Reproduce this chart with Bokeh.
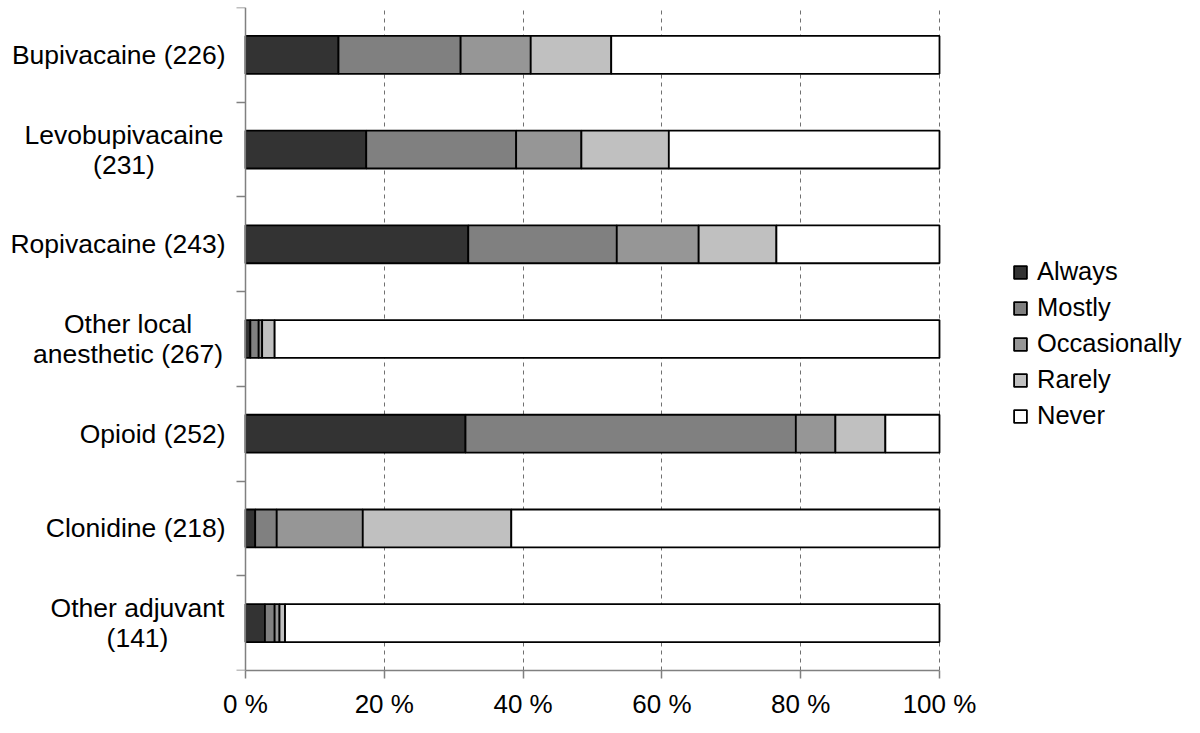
from bokeh.plotting import figure
from bokeh.models import ColumnDataSource, FixedTicker, Range1d, Legend
from bokeh.core.properties import value
from bokeh.embed import file_html
from bokeh.resources import INLINE

categories = ["Bupivacaine (226)", "Levobupivacaine\n(231)", "Ropivacaine (243)",
              "Other local\nanesthetic (267)", "Opioid (252)", "Clonidine (218)",
              "Other adjuvant\n(141)"]
always = [13.4, 17.4, 32.1, 0.7, 31.7, 1.4, 2.8]
mostly = [17.6, 21.6, 21.4, 1.2, 47.6, 3.1, 1.4]
occasionally = [10.1, 9.4, 11.8, 0.5, 5.7, 12.4, 0.7]
rarely = [11.6, 12.6, 11.2, 1.8, 7.2, 21.4, 0.8]
never = [47.3, 39.0, 23.5, 95.8, 7.8, 61.7, 94.3]
series = ["Always", "Mostly", "Occasionally", "Rarely", "Never"]
colors = ["#333333", "#808080", "#969696", "#c0c0c0", "#ffffff"]
x_ticks = [0, 20, 40, 60, 80, 100]
x_tick_labels = ["0 %", "20 %", "40 %", "60 %", "80 %", "100 %"]

FONT = "Liberation Sans"
n = len(categories)
ypos = [n - 0.5 - i for i in range(n)]

# layout in pixels
W = 1184
FRAME_LEFT = 0
ZERO_PX = 245
PX_PER_PCT = 6.94
FRAME_TOP = 7
FRAME_H = 663
fw = W - FRAME_LEFT
x_start = (FRAME_LEFT - ZERO_PX) / PX_PER_PCT
x_end = (W - ZERO_PX) / PX_PER_PCT
px_per_cat = FRAME_H / n

src = ColumnDataSource(dict(y=ypos, Always=always, Mostly=mostly,
                            Occasionally=occasionally, Rarely=rarely, Never=never))

p = figure(frame_width=fw, frame_height=FRAME_H, min_border_left=FRAME_LEFT, min_border_right=0,
           min_border_top=FRAME_TOP, min_border_bottom=10,
           x_range=Range1d(x_start, x_end), y_range=Range1d(0, n),
           output_backend="svg", toolbar_location=None)
p.outline_line_color = None
p.background_fill_color = "white"
p.border_fill_color = "white"

renderers = p.hbar_stack(series, y="y", height=0.4, color=colors, source=src,
                         line_color="black", line_width=1.8)

legend = Legend(items=[(s, [r]) for s, r in zip(series, renderers)],
                location=(1012 - FRAME_LEFT, 240), orientation="vertical")
legend.label_text_font = FONT
legend.label_text_font_size = "25.5px"
legend.label_text_color = "black"
legend.glyph_width = 16
legend.glyph_height = 16
legend.label_standoff = 9
legend.spacing = 7
legend.padding = 0
legend.margin = 0
legend.border_line_alpha = 0
legend.background_fill_alpha = 0
p.add_layout(legend, "center")

# grid
p.ygrid.visible = False
p.xgrid.ticker = FixedTicker(ticks=x_ticks[1:])
p.xgrid.grid_line_color = "#707070"
p.xgrid.grid_line_dash = "4 4"
p.xgrid.grid_line_width = 1

# x axis
xa = p.xaxis[0]
xa.ticker = FixedTicker(ticks=x_ticks, minor_ticks=[])
xa.bounds = (x_ticks[0], x_ticks[-1])
xa.major_label_overrides = {t: l for t, l in zip(x_ticks, x_tick_labels)}
xa.major_label_text_font = FONT
xa.major_label_text_font_size = "26px"
xa.major_label_text_color = "black"
xa.major_label_standoff = 10
xa.axis_line_color = "#808080"
xa.axis_line_width = 1.5
xa.major_tick_line_color = "#808080"
xa.major_tick_line_width = 1.5
xa.major_tick_out = 8
xa.major_tick_in = 0
xa.minor_tick_line_color = None

# y axis, drawn at x = 0
ya = p.yaxis[0]
ya.fixed_location = 0
ya.ticker = FixedTicker(ticks=[], minor_ticks=list(range(n + 1)))
ya.major_label_text_font_size = "0px"
ya.major_tick_line_color = None
ya.major_tick_out = 0
ya.axis_line_color = "#808080"
ya.axis_line_width = 1.5
ya.minor_tick_line_color = "#808080"
ya.minor_tick_line_width = 1.5
ya.minor_tick_out = 9
ya.minor_tick_in = 0

# category labels
right_edge_px = 20                       # gap between label right edge and axis
centers_px = {1: 121.5, 3: 117.5, 6: 108}  # multi-line block centre, px left of axis
line_gap_px = 15
single = dict(x=[], y=[], text=[])
multi = dict(x=[], y=[], text=[])
for i, cat in enumerate(categories):
    lines = cat.split("\n")
    if len(lines) == 1:
        single["x"].append(-right_edge_px / PX_PER_PCT)
        single["y"].append(ypos[i])
        single["text"].append(cat)
    else:
        for j, ln in enumerate(lines):
            dy = (line_gap_px if j == 0 else -line_gap_px) / px_per_cat
            multi["x"].append(-centers_px[i] / PX_PER_PCT)
            multi["y"].append(ypos[i] + dy)
            multi["text"].append(ln)

p.text(x="x", y="y", text="text", source=ColumnDataSource(single),
       text_align="right", text_baseline="middle",
       text_font=value(FONT), text_font_size="26.5px", text_color="black")
p.text(x="x", y="y", text="text", source=ColumnDataSource(multi),
       text_align="center", text_baseline="middle",
       text_font=value(FONT), text_font_size="26.5px", text_color="black")

open("out.html", "w").write(file_html(p, INLINE))
